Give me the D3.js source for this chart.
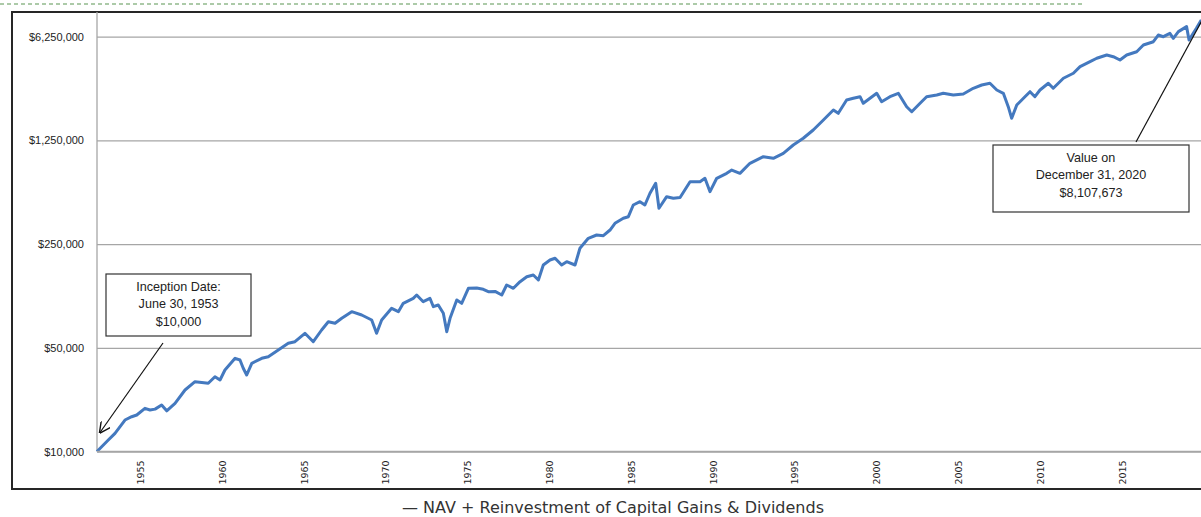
<!DOCTYPE html>
<html>
<head>
<meta charset="utf-8">
<script src="https://d3js.org/d3.v7.min.js"></script>
<style>
  body { margin: 0; background: #fff; }
</style>
</head>
<body>
<div id="my_chart"></div>
<script>

// line data: decimal year, NAV value
var navDates = [
  1953.50, 1954.19, 1954.60, 1954.91, 1955.21, 1955.62, 1955.93, 1956.43, 1956.74, 1957.05,
  1957.45, 1957.76, 1958.27, 1958.88, 1959.49, 1959.90, 1960.30, 1960.71, 1961.02, 1961.32,
  1961.94, 1962.24, 1962.44, 1962.65, 1962.96, 1963.57, 1963.97, 1964.58, 1965.19, 1965.60,
  1966.21, 1966.72, 1967.23, 1967.64, 1968.05, 1968.46, 1969.07, 1969.68, 1970.29, 1970.59,
  1970.90, 1971.51, 1971.92, 1972.22, 1972.83, 1973.04, 1973.44, 1973.85, 1974.06, 1974.36,
  1974.67, 1974.88, 1975.08, 1975.49, 1975.79, 1976.20, 1976.71, 1977.11, 1977.42, 1977.83,
  1978.24, 1978.54, 1978.95, 1979.36, 1979.77, 1980.17, 1980.48, 1980.78, 1981.19, 1981.50,
  1981.90, 1982.21, 1982.72, 1983.02, 1983.53, 1984.04, 1984.45, 1984.86, 1985.16, 1985.67,
  1985.98, 1986.28, 1986.69, 1986.99, 1987.30, 1987.65, 1987.85, 1988.32, 1988.73, 1989.14,
  1989.75, 1990.36, 1990.66, 1990.97, 1991.38, 1991.99, 1992.30, 1992.80, 1993.41, 1994.23,
  1994.84, 1995.45, 1996.06, 1996.67, 1997.28, 1997.90, 1998.51, 1998.81, 1999.32, 1999.73,
  2000.14, 2000.34, 2000.75, 2001.16, 2001.46, 2001.97, 2002.48, 2002.99, 2003.30, 2003.81,
  2004.21, 2004.83, 2005.23, 2005.84, 2006.45, 2007.06, 2007.58, 2008.08, 2008.50, 2008.90,
  2009.20, 2009.41, 2009.72, 2010.22, 2010.53, 2010.83, 2011.14, 2011.65, 2011.95, 2012.57,
  2013.18, 2013.59, 2014.20, 2014.61, 2015.22, 2015.62, 2016.03, 2016.44, 2017.05, 2017.46,
  2018.07, 2018.37, 2018.68, 2019.08, 2019.29, 2019.60, 2020.10, 2020.25, 2020.70, 2021.00
];

var navValues = [
  10000, 11950, 13260, 14700, 16300, 17160, 17620, 19550, 19040, 19300,
  20580, 18800, 21130, 25970, 29540, 29200, 28820, 31930, 30330, 35430,
  42480, 41370, 36380, 32780, 39310, 42480, 43550, 48320, 53620, 54970,
  62620, 54970, 65910, 74970, 73130, 79030, 87560, 83190, 76970, 62620,
  76970, 92310, 87560, 99750, 107800, 113500, 102300, 107800, 94620, 97160,
  85410, 64190, 79030, 105000, 99750, 125900, 126500, 124000, 119400, 120000,
  113500, 132500, 125900, 139500, 150700, 154800, 143200, 180700, 195300, 200600,
  180700, 190200, 180700, 234300, 273600, 287900, 285000, 311100, 345200, 373100,
  382500, 458700, 482800, 458700, 550200, 642400, 435800, 521800, 509000, 515000,
  658500, 658500, 694200, 564000, 694200, 749900, 789300, 749900, 876000, 970600,
  946800, 1023000, 1164000, 1292000, 1469000, 1716000, 2004000, 1903000, 2340000, 2403000,
  2463000, 2223000, 2403000, 2597000, 2279000, 2463000, 2597000, 2109000, 1951000, 2223000,
  2463000, 2529000, 2597000, 2529000, 2569000, 2807000, 2954000, 3033000, 2733000, 2597000,
  2109000, 1761000, 2165000, 2463000, 2662000, 2463000, 2733000, 3033000, 2807000, 3278000,
  3543000, 3925000, 4242000, 4471000, 4706000, 4583000, 4354000, 4706000, 4949000, 5492000,
  5781000, 6414000, 6250000, 6586000, 6094000, 6762000, 7307000, 5935000, 7128000, 8107673
];

// axis labels
var yTicks = [10000, 50000, 250000, 1250000, 6250000];
var xTickYears = [1955, 1960, 1965, 1970, 1975, 1980, 1985, 1990, 1995, 2000, 2005, 2010, 2015];

// annotation text
var startNote = ["Inception Date:", "June 30, 1953", "$10,000"];
var endNote = ["Value on", "December 31, 2020", "$8,107,673"];
var legendText = "\u2014 NAV + Reinvestment of Capital Gains & Dividends";

var W = 1201, H = 517;
var plot = {left: 97, top: 12, bottom: 451.5, right: 1201.3};
// excel draws the year labels a little after Jan 1 of each year
var labelShift = 1.13;

var svg = d3.select("#my_chart")
  .append("svg")
    .attr("width", W)
    .attr("height", H);

// defs for arrow head
svg.append("defs").append("marker")
    .attr("id", "arrow")
    .attr("viewBox", "0 0 10 10")
    .attr("refX", 9).attr("refY", 5)
    .attr("markerWidth", 11).attr("markerHeight", 11)
    .attr("markerUnits", "userSpaceOnUse")
    .attr("orient", "auto")
  .append("path")
    .attr("d", "M0,0 L10,5 L0,10")
    .attr("fill", "none")
    .attr("stroke", "#111")
    .attr("stroke-width", 1.3);

// dashed green line on top
svg.append("line")
    .attr("x1", 0).attr("x2", 1083)
    .attr("y1", 4).attr("y2", 4)
    .attr("stroke", "#5a9552")
    .attr("stroke-width", 1.2)
    .attr("stroke-dasharray", "4,3");

// outer chart frame
svg.append("rect")
    .attr("x", 12).attr("y", 12)
    .attr("width", 1200).attr("height", 477)
    .attr("fill", "none")
    .attr("stroke", "#262626")
    .attr("stroke-width", 2);

// scales
var x = d3.scaleLinear()
  .domain([1953.5, 2021.0])
  .range([plot.left, plot.right]);

var y = d3.scaleLog()
  .domain([10000, 9170000])
  .range([plot.bottom, plot.top]);

// gridlines + y labels
var yAxis = d3.axisLeft(y)
  .tickValues(yTicks)
  .tickSize(-(W - plot.left))
  .tickPadding(13)
  .tickFormat(function(d) { return "$" + d3.format(",")(d); });

var gy = svg.append("g")
  .attr("transform", "translate(" + plot.left + ",0)")
  .call(yAxis);
gy.select(".domain").remove();
gy.selectAll(".tick line")
  .attr("stroke", "#a6a6a6")
  .attr("stroke-width", 1.3);
gy.selectAll(".tick text")
  .attr("font-family", "'Liberation Sans', Arial, sans-serif")
  .attr("font-size", "11px")
  .attr("fill", "#222");

// y axis line
svg.append("line")
  .attr("x1", plot.left).attr("x2", plot.left)
  .attr("y1", plot.top).attr("y2", plot.bottom)
  .attr("stroke", "#a6a6a6")
  .attr("stroke-width", 1.3);

// x axis labels (rotated)
var xAxis = d3.axisBottom(x)
  .tickValues(xTickYears.map(function(d) { return d + labelShift; }))
  .tickSize(0)
  .tickFormat(function(d) { return Math.round(d - labelShift); });

var gx = svg.append("g")
  .attr("transform", "translate(0," + plot.bottom + ")")
  .call(xAxis);
gx.select(".domain").remove();
gx.selectAll(".tick text")
  .attr("font-family", "'DejaVu Sans', Verdana, sans-serif")
  .attr("font-size", "9.5px")
  .attr("fill", "#222")
  .attr("text-anchor", "middle")
  .attr("dy", null)
  .attr("y", 0)
  .attr("transform", "translate(3.5,21) rotate(-90)");

// the line
var pts = navDates.map(function(d, i) { return {date: d, value: navValues[i]}; });

var line = d3.line()
  .x(function(d) { return x(d.date); })
  .y(function(d) { return y(d.value); });

svg.append("path")
  .datum(pts)
  .attr("fill", "none")
  .attr("stroke", "#4479bf")
  .attr("stroke-width", 3)
  .attr("stroke-linejoin", "round")
  .attr("d", line);

// x axis line
svg.append("line")
  .attr("x1", plot.left).attr("x2", W)
  .attr("y1", plot.bottom).attr("y2", plot.bottom)
  .attr("stroke", "#a6a6a6")
  .attr("stroke-width", 1.3);

// annotation boxes
function noteBox(bx, by, bw, bh, lines) {
  svg.append("rect")
    .attr("x", bx).attr("y", by)
    .attr("width", bw).attr("height", bh)
    .attr("fill", "#fff")
    .attr("stroke", "#333")
    .attr("stroke-width", 1.2);
  svg.append("text")
    .attr("font-family", "'Liberation Sans', Arial, sans-serif")
    .attr("font-size", "12.6px")
    .attr("fill", "#222")
    .attr("text-anchor", "middle")
    .selectAll("tspan")
    .data(lines)
    .enter()
    .append("tspan")
      .attr("x", bx + bw / 2)
      .attr("y", function(d, i) { return by + 16.5 + i * 17.5; })
      .text(function(d) { return d; });
}

// inception arrow
svg.append("line")
  .attr("x1", 163).attr("y1", 343)
  .attr("x2", x(1953.5) + 3).attr("y2", y(10000) - 19)
  .attr("stroke", "#111")
  .attr("stroke-width", 1.2)
  .attr("marker-end", "url(#arrow)");

noteBox(106, 274, 145, 62, startNote);

// end value pointer
svg.append("line")
  .attr("x1", 1136).attr("y1", 142)
  .attr("x2", x(2021.0) + 2).attr("y2", y(8107673) - 2)
  .attr("stroke", "#111")
  .attr("stroke-width", 1.2);

noteBox(993, 145, 196, 67, endNote);

// legend
svg.append("text")
  .attr("x", 613).attr("y", 512.5)
  .attr("text-anchor", "middle")
  .attr("font-family", "'DejaVu Sans', Verdana, sans-serif")
  .attr("font-size", "16px")
  .attr("fill", "#333")
  .text(legendText);

</script>
</body>
</html>
